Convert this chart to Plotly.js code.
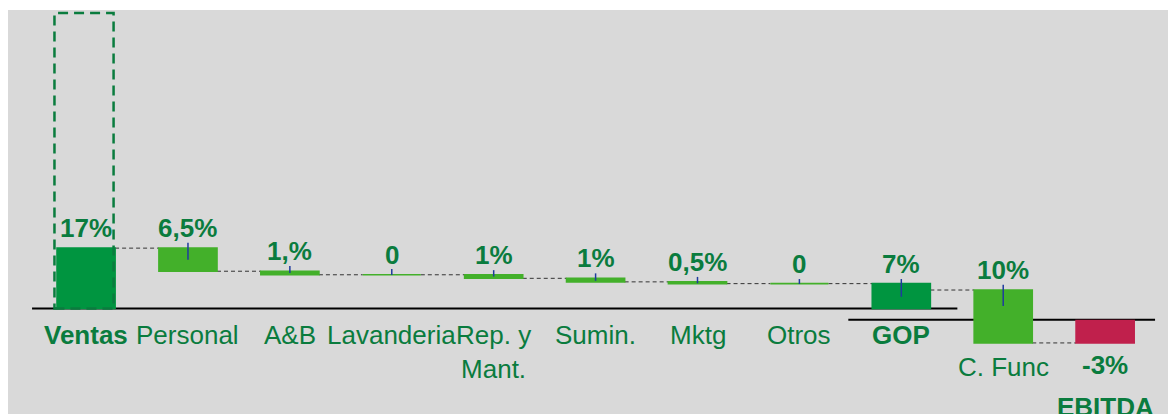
<!DOCTYPE html>
<html>
<head>
<meta charset="utf-8">
<script src="https://cdn.plot.ly/plotly-3.0.1.min.js"></script>
<style>
  html, body { margin: 0; padding: 0; background: #ffffff; }
  #chart { width: 1168px; height: 414px; }
</style>
</head>
<body>
<div id="chart"></div>
<script>
// ---------------- data ----------------
const categories = ['Ventas', 'Personal', 'A&B', 'Lavanderia', 'Rep. y Mant.', 'Sumin.', 'Mktg', 'Otros', 'GOP', 'C. Func', 'EBITDA'];
const categoryText = ['Ventas', 'Personal', 'A&B', 'Lavanderia', 'Rep. y<br>Mant.', 'Sumin.', 'Mktg', 'Otros', 'GOP', 'C. Func', 'EBITDA'];
const measures = ['absolute', 'relative', 'relative', 'relative', 'relative', 'relative', 'relative', 'relative', 'total', 'relative', 'total'];
const barFrom = [0, 17, 10.5, 9.5, 9.5, 8.5, 7.5, 7, 0, 5.2, -3.4];
const barTo = [17, 10.5, 9.5, 9.5, 8.5, 7.5, 7, 7, 7, -9.7, -9.7];
const valueLabels = ['17%', '6,5%', '1,%', '0', '1%', '1%', '0,5%', '0', '7%', '10%', '-3%'];
const tickLow = [null, 13.7, 10.0, 9.4, 9.0, 7.8, 7.1, 6.9, 3.3, 0.7, null];
const tickHigh = [null, 18.5, 12.0, 11.1, 10.8, 9.9, 8.9, 8.3, 8.3, 6.7, null];
const ventasOutlineTop = 83.2;
const secondBaseline = -3.2;

// ---------------- styles ----------------
const FONT = '"Liberation Sans", Arial, sans-serif';
const DARK_GREEN = '#009540';
const LIGHT_GREEN = '#43b02a';
const RED = '#c0204c';
const TEXT_GREEN = '#0a7c3e';
const BAR_W = 0.57;

const barColors = measures.map((m, i) => m === 'relative' ? LIGHT_GREEN : (barTo[i] < 0 ? RED : DARK_GREEN));
const gopIndex = categories.indexOf('GOP');

const bars = {
  type: 'bar',
  x: categories,
  base: barFrom,
  y: barTo.map((t, i) => t - barFrom[i]),
  width: BAR_W,
  marker: { color: barColors, line: { color: barColors, width: 1.6 } },
  hoverinfo: 'skip',
  showlegend: false
};

const tx = [], ty = [];
categories.forEach((c, i) => {
  if (tickLow[i] === null) return;
  tx.push(c, c, null);
  ty.push(tickLow[i], tickHigh[i], null);
});
const ticks = {
  type: 'scatter', mode: 'lines', x: tx, y: ty,
  line: { color: '#1f3b9e', width: 1.5 },
  hoverinfo: 'skip', showlegend: false, connectgaps: false
};

// ---------------- shapes ----------------
const shapes = [];
// baselines
shapes.push({ type: 'line', layer: 'below', xref: 'x', yref: 'y',
  x0: 'Ventas', x0shift: -0.53, x1: 'GOP', x1shift: 0.55, y0: 0, y1: 0,
  line: { color: '#000000', width: 2 } });
shapes.push({ type: 'line', layer: 'below', xref: 'x', yref: 'y',
  x0: 'GOP', x0shift: -0.52, x1: 'EBITDA', x1shift: 0.49, y0: secondBaseline, y1: secondBaseline,
  line: { color: '#000000', width: 2 } });
// connectors
for (let i = 0; i < categories.length - 1; i++) {
  const lvl = measures[i + 1] === 'total' ? barTo[i + 1] : barFrom[i + 1];
  shapes.push({ type: 'line', layer: 'below', xref: 'x', yref: 'y',
    x0: categories[i], x0shift: BAR_W / 2, x1: categories[i + 1], x1shift: -BAR_W / 2,
    y0: lvl, y1: lvl,
    line: { color: '#333333', width: 1, dash: '4px,3px' } });
}
// dashed outline on Ventas
shapes.push({ type: 'rect', layer: 'above', xref: 'x', yref: 'y',
  x0: 'Ventas', x0shift: -0.31, x1: 'Ventas', x1shift: 0.27, y0: 0, y1: ventasOutlineTop,
  fillcolor: 'rgba(0,0,0,0)',
  line: { color: TEXT_GREEN, width: 2.5, dash: '10px,6px' } });

// ---------------- annotations ----------------
const annotations = [];
categories.forEach((c, i) => {
  const negTotal = measures[i] === 'total' && barTo[i] < 0;
  const top = Math.max(barFrom[i], barTo[i]);
  const bottom = Math.min(barFrom[i], barTo[i]);
  // value label
  annotations.push({
    x: c, y: negTotal ? bottom : top, xref: 'x', yref: 'y',
    text: valueLabels[i], showarrow: false,
    yanchor: negTotal ? 'top' : 'bottom', yshift: negTotal ? -5 : 3,
    font: { family: FONT, size: 26, color: TEXT_GREEN, weight: 'bold' }
  });
  // category label
  let y, ys;
  if (i <= gopIndex) { y = 0; ys = -10; }
  else if (negTotal) { y = bottom; ys = -47; }
  else { y = bottom; ys = -7; }
  annotations.push({
    x: c, y: y, xref: 'x', yref: 'y',
    text: categoryText[i], showarrow: false,
    yanchor: 'top', yshift: ys,
    font: { family: FONT, size: 26, color: TEXT_GREEN, weight: measures[i] === 'relative' ? 'normal' : 'bold' }
  });
});

const layout = {
  width: 1168, height: 414,
  margin: { l: 8, r: 0, t: 10, b: 0, pad: 0 },
  paper_bgcolor: '#ffffff',
  plot_bgcolor: '#d9d9d9',
  showlegend: false,
  xaxis: { type: 'category', categoryorder: 'array', categoryarray: categories,
    range: [-0.766, 10.617], showticklabels: false, showgrid: false, zeroline: false, showline: false, ticks: '', fixedrange: true },
  yaxis: { range: [-29.72, 84.08], showticklabels: false, showgrid: false, zeroline: false, showline: false, ticks: '', fixedrange: true },
  shapes: shapes,
  annotations: annotations,
  font: { family: FONT }
};

Plotly.newPlot('chart', [bars, ticks], layout, { displayModeBar: false, staticPlot: true });
</script>
</body>
</html>
